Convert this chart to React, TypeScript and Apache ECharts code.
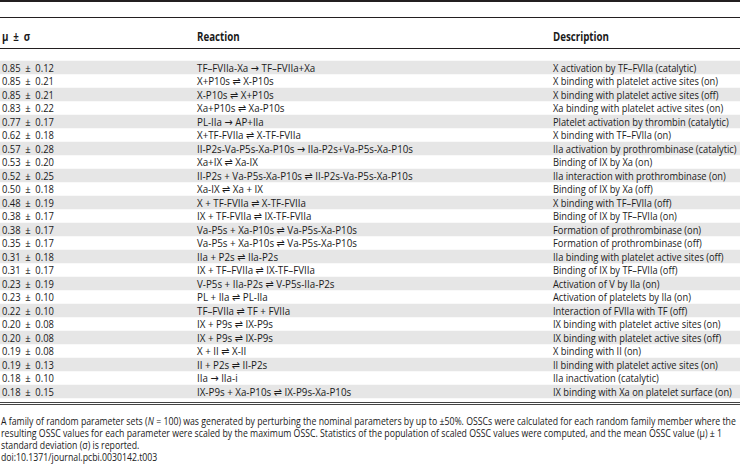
import React, { useEffect, useRef } from "react";
import * as echarts from "echarts";

const means = [0.85, 0.85, 0.85, 0.83, 0.77, 0.62, 0.57, 0.53, 0.52, 0.5, 0.48, 0.38, 0.38, 0.35, 0.31, 0.31, 0.23, 0.23, 0.22, 0.2, 0.2, 0.19, 0.19, 0.18, 0.18];
const sds = [0.12, 0.21, 0.21, 0.22, 0.17, 0.18, 0.28, 0.2, 0.25, 0.18, 0.19, 0.17, 0.17, 0.17, 0.18, 0.17, 0.19, 0.1, 0.1, 0.08, 0.08, 0.08, 0.13, 0.1, 0.15];
const reactions = [
  "TF–FVIIa-Xa → TF–FVIIa+Xa",
  "X+P10s ⇌ X-P10s",
  "X-P10s ⇌ X+P10s",
  "Xa+P10s ⇌ Xa-P10s",
  "PL-IIa → AP+IIa",
  "X+TF-FVIIa ⇌ X-TF-FVIIa",
  "II-P2s-Va-P5s-Xa-P10s → IIa-P2s+Va-P5s-Xa-P10s",
  "Xa+IX ⇌ Xa-IX",
  "II-P2s + Va-P5s-Xa-P10s ⇌ II-P2s-Va-P5s-Xa-P10s",
  "Xa-IX ⇌ Xa + IX",
  "X + TF-FVIIa ⇌ X-TF-FVIIa",
  "IX + TF-FVIIa ⇌ IX-TF-FVIIa",
  "Va-P5s + Xa-P10s ⇌ Va-P5s-Xa-P10s",
  "Va-P5s + Xa-P10s ⇌ Va-P5s-Xa-P10s",
  "IIa + P2s ⇌ IIa-P2s",
  "IX + TF–FVIIa ⇌ IX-TF–FVIIa",
  "V-P5s + IIa-P2s ⇌ V-P5s-IIa-P2s",
  "PL + IIa ⇌ PL-IIa",
  "TF–FVIIa ⇌ TF + FVIIa",
  "IX + P9s ⇌ IX-P9s",
  "IX + P9s ⇌ IX-P9s",
  "X + II ⇌ X-II",
  "II + P2s ⇌ II-P2s",
  "IIa → IIa-i",
  "IX-P9s + Xa-P10s ⇌ IX-P9s-Xa-P10s",
];
const descriptions = [
  "X activation by TF–FVIIa (catalytic)",
  "X binding with platelet active sites (on)",
  "X binding with platelet active sites (off)",
  "Xa binding with platelet active sites (on)",
  "Platelet activation by thrombin (catalytic)",
  "X binding with TF–FVIIa (on)",
  "IIa activation by prothrombinase (catalytic)",
  "Binding of IX by Xa (on)",
  "IIa interaction with prothrombinase (on)",
  "Binding of IX by Xa (off)",
  "X binding with TF–FVIIa (off)",
  "Binding of IX by TF–FVIIa (on)",
  "Formation of prothrombinase (on)",
  "Formation of prothrombinase (off)",
  "IIa binding with platelet active sites (off)",
  "Binding of IX by TF–FVIIa (off)",
  "Activation of V by IIa (on)",
  "Activation of platelets by IIa (on)",
  "Interaction of FVIIa with TF (off)",
  "IX binding with platelet active sites (on)",
  "IX binding with platelet active sites (off)",
  "X binding with II (on)",
  "II binding with platelet active sites (on)",
  "IIa inactivation (catalytic)",
  "IX binding with Xa on platelet surface (on)",
];
const headers = ["μ\u2002±\u2002σ", "Reaction", "Description"];
const captionLines = [
  "A family of random parameter sets ({i|N} = 100) was generated by perturbing the nominal parameters by up to ±50%. OSSCs were calculated for each random family member where the",
  "resulting OSSC values for each parameter were scaled by the maximum OSSC. Statistics of the population of scaled OSSC values were computed, and the mean OSSC value (μ) ± 1",
  "standard deviation (σ) is reported.",
  "doi:10.1371/journal.pcbi.0030142.t003",
];

const FONT_FAMILY = "'Open Sans', 'DejaVu Sans', sans-serif";
const TEXT_COLOR = "#1a1a1a";

function measure(text: string, font: string): number {
  const ctx = document.createElement("canvas").getContext("2d");
  if (!ctx) return text.length * 5;
  ctx.font = font;
  return ctx.measureText(text).width;
}

const fmtValue = (m: number, s: number) => `${m.toFixed(2)}\u2002±\u2002${s.toFixed(2)}`;

export default function App() {
  const ref = useRef<HTMLDivElement>(null);
  useEffect(() => {
    if (!ref.current) return;
    const chart = echarts.init(ref.current, null, { renderer: "svg" });
    const bodySize = 11.5;
    const bodyFont = `${bodySize}px ${FONT_FAMILY}`;
    const descScale = 184 / measure(descriptions[6], bodyFont);
    const reacScale = (206 / measure(reactions[6], bodyFont)) * 1.05;
    const valScale = 52 / measure(fmtValue(means[0], sds[0]), bodyFont);
    const headScale = 56 / measure(headers[2], `bold ${bodyFont}`);
    const capSize = 11;
    const capFont = `${capSize}px ${FONT_FAMILY}`;
    const capScale = 736 / measure(captionLines[0].replace("{i|N}", "N"), capFont);

    const colX = [2, 197, 553];
    const rowY0 = 67.5;
    const rowH = 13.5;
    const els: any[] = [];

    means.forEach((_, i) => {
      if (i % 2 === 0) {
        els.push({
          type: "rect",
          shape: { x: 0, y: rowY0 + i * rowH - rowH / 2, width: 740, height: rowH },
          style: { fill: "#e6e6e6" },
          silent: true,
        });
      }
    });

    const txt = (text: string, x: number, y: number, scale: number, size = bodySize, bold = false, rich?: any) => ({
      type: "text",
      x,
      y,
      scaleX: scale,
      style: {
        text,
        x: 0,
        y: 0,
        fill: TEXT_COLOR,
        fontFamily: FONT_FAMILY,
        fontSize: size,
        fontWeight: bold ? "bold" : "normal",
        verticalAlign: "middle",
        align: "left",
        rich,
      },
      silent: true,
    });

    headers.forEach((h, j) => els.push(txt(h, colX[j], 37, headScale, bodySize, true)));

    means.forEach((m, i) => {
      const y = rowY0 + i * rowH;
      els.push(txt(fmtValue(m, sds[i]), colX[0], y, valScale));
      els.push(txt(reactions[i], colX[1], y, reacScale));
      els.push(txt(descriptions[i], colX[2], y, descScale));
    });

    const rule = (y: number, w: number, c = "#231f20") => ({
      type: "line",
      shape: { x1: 0, y1: y, x2: 740, y2: y },
      style: { stroke: c, lineWidth: w },
      silent: true,
    });
    els.push(rule(1, 2));
    els.push(rule(17.5, 1));
    els.push(rule(48.5, 1));
    els.push(rule(402.5, 1, "#444"));
    els.push(rule(404.5, 1, "#444"));

    captionLines.forEach((line, k) => {
      els.push(
        txt(line, 1, 421 + k * 12, capScale, capSize, false, {
          i: { fontStyle: "italic", fontFamily: FONT_FAMILY, fontSize: capSize, fill: TEXT_COLOR },
        })
      );
    });

    chart.setOption({ animation: false, graphic: { elements: els } });
    return () => chart.dispose();
  }, []);
  return <div ref={ref} style={{ position: "fixed", left: 0, top: 0, width: 740, height: 468, background: "#fff" }} />;
}
